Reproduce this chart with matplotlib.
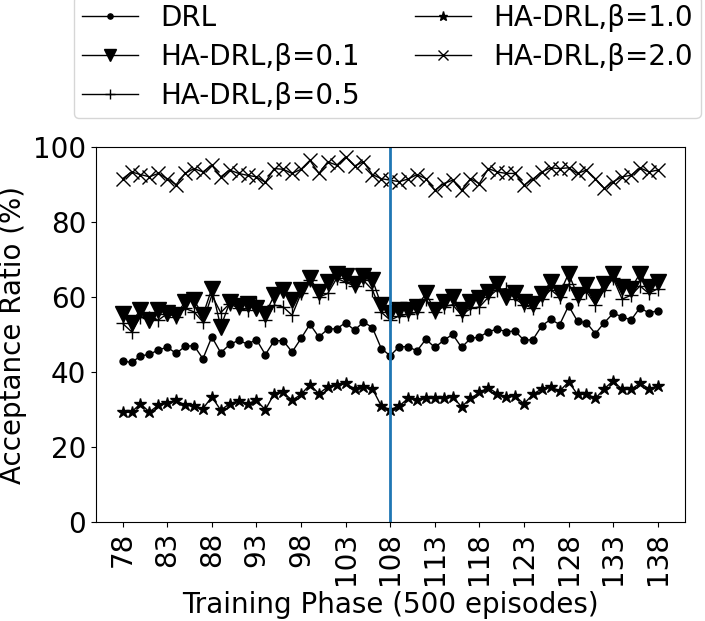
import matplotlib
matplotlib.use("Agg")
import matplotlib.pyplot as plt
import numpy as np

phases = list(range(78, 139))
switch_phase = 108

drl = [43.0, 42.6, 44.3, 44.8, 45.9, 46.7, 45.0, 46.9, 47.1, 43.6,
       49.4, 45.2, 47.4, 48.5, 47.5, 48.7, 44.7, 48.4, 48.4, 45.4,
       49.0, 52.8, 49.4, 51.5, 51.6, 53.2, 51.2, 53.4, 51.9, 46.3,
       44.4, 46.8, 46.8, 45.7, 48.8, 46.6, 48.5, 50.1, 46.6, 49.0,
       49.4, 50.8, 51.5, 50.8, 51.0, 48.5, 48.7, 52.4, 54.1, 52.7,
       57.7, 53.6, 53.2, 50.3, 53.2, 55.7, 54.8, 53.9, 57.2, 55.8,
       56.4]

beta_01 = [55.6, 53.2, 56.7, 53.9, 56.5, 55.8, 55.2, 58.8, 59.2, 55.2,
           62.3, 52.1, 58.6, 57.6, 58.3, 57.2, 55.6, 60.5, 61.9, 59.2,
           61.9, 65.0, 61.4, 64.1, 66.3, 65.6, 63.5, 65.6, 64.7, 57.9,
           55.8, 56.5, 56.5, 57.4, 61.0, 56.5, 58.6, 60.1, 56.5, 58.8,
           59.9, 61.4, 63.5, 60.1, 61.0, 58.8, 58.3, 60.8, 64.1, 61.0,
           66.3, 60.5, 63.2, 60.1, 63.5, 66.3, 62.7, 62.3, 66.3, 62.7,
           64.1]

beta_05 = [53.0, 50.8, 54.8, 54.5, 53.9, 55.6, 54.8, 57.0, 56.1, 53.4,
           60.5, 55.9, 58.3, 57.0, 56.5, 58.5, 53.9, 57.9, 57.4, 55.2,
           61.0, 64.5, 60.0, 61.0, 65.0, 64.0, 63.0, 64.5, 62.0, 56.0,
           53.9, 55.0, 55.5, 56.0, 59.5, 56.0, 57.5, 58.0, 55.2, 57.0,
           57.4, 60.0, 62.0, 62.3, 59.5, 58.0, 57.0, 59.5, 62.0, 60.0,
           63.5, 59.5, 61.5, 57.9, 62.0, 65.0, 59.5, 60.5, 63.0, 61.0,
           62.3]

beta_10 = [29.4, 29.4, 31.6, 29.4, 31.2, 31.8, 32.5, 31.2, 31.0, 30.3,
           33.4, 29.9, 31.6, 32.4, 31.6, 32.5, 30.0, 34.3, 34.6, 32.5,
           34.1, 36.7, 34.3, 36.1, 36.5, 37.0, 35.6, 36.1, 35.6, 31.0,
           30.0, 31.0, 33.0, 32.7, 33.0, 33.0, 33.0, 33.4, 30.8, 33.0,
           34.6, 35.9, 34.3, 33.4, 33.6, 31.6, 34.1, 35.6, 36.1, 35.0,
           37.4, 34.1, 34.3, 33.0, 35.6, 37.7, 35.4, 35.4, 37.1, 35.6,
           36.3]

beta_20 = [91.6, 93.4, 92.7, 92.1, 93.0, 91.6, 90.0, 93.0, 94.3, 93.4,
           95.2, 92.1, 93.9, 93.0, 92.5, 92.1, 90.6, 94.3, 94.1, 93.0,
           94.1, 96.5, 93.0, 96.1, 95.2, 97.4, 95.0, 96.1, 92.7, 91.6,
           91.2, 90.8, 91.5, 92.7, 91.6, 88.5, 90.3, 91.2, 88.5, 91.6,
           90.3, 94.3, 93.4, 93.0, 93.0, 89.9, 91.5, 93.4, 94.5, 94.3,
           94.5, 93.0, 93.9, 91.6, 89.0, 90.8, 92.1, 92.5, 94.5, 93.4,
           93.9]

series = [
    ("DRL", drl, "o", 5),
    ("HA-DRL,β=0.1", beta_01, "v", 12),
    ("HA-DRL,β=0.5", beta_05, "+", 10),
    ("HA-DRL,β=1.0", beta_10, "*", 9),
    ("HA-DRL,β=2.0", beta_20, "x", 10),
]

plt.rcParams["font.size"] = 20

fig = plt.figure(figsize=(7.05, 6.21), dpi=100)
ax = fig.add_axes([0.136, 0.159, 0.835, 0.604])

for label, values, marker, ms in series:
    ax.plot(phases, values, color="black", linewidth=1, marker=marker,
            markersize=ms, label=label)

ax.axvline(switch_phase, color="#1f77b4", linewidth=2)

ax.set_ylim(0, 100)
ax.set_yticks(np.arange(0, 101, 20))
ax.set_xticks(phases[::5])
ax.tick_params(axis="x", labelrotation=90)
ax.set_xlabel("Training Phase (500 episodes)")
ax.set_ylabel("Acceptance Ratio (%)")

ax.legend(ncol=2, loc="lower center", bbox_to_anchor=(0.495, 1.077),
          borderaxespad=0, fontsize=20, handlelength=2.0,
          labelspacing=0.4, borderpad=0.3, markerscale=0.75)

fig.savefig("out.png", dpi=100)
